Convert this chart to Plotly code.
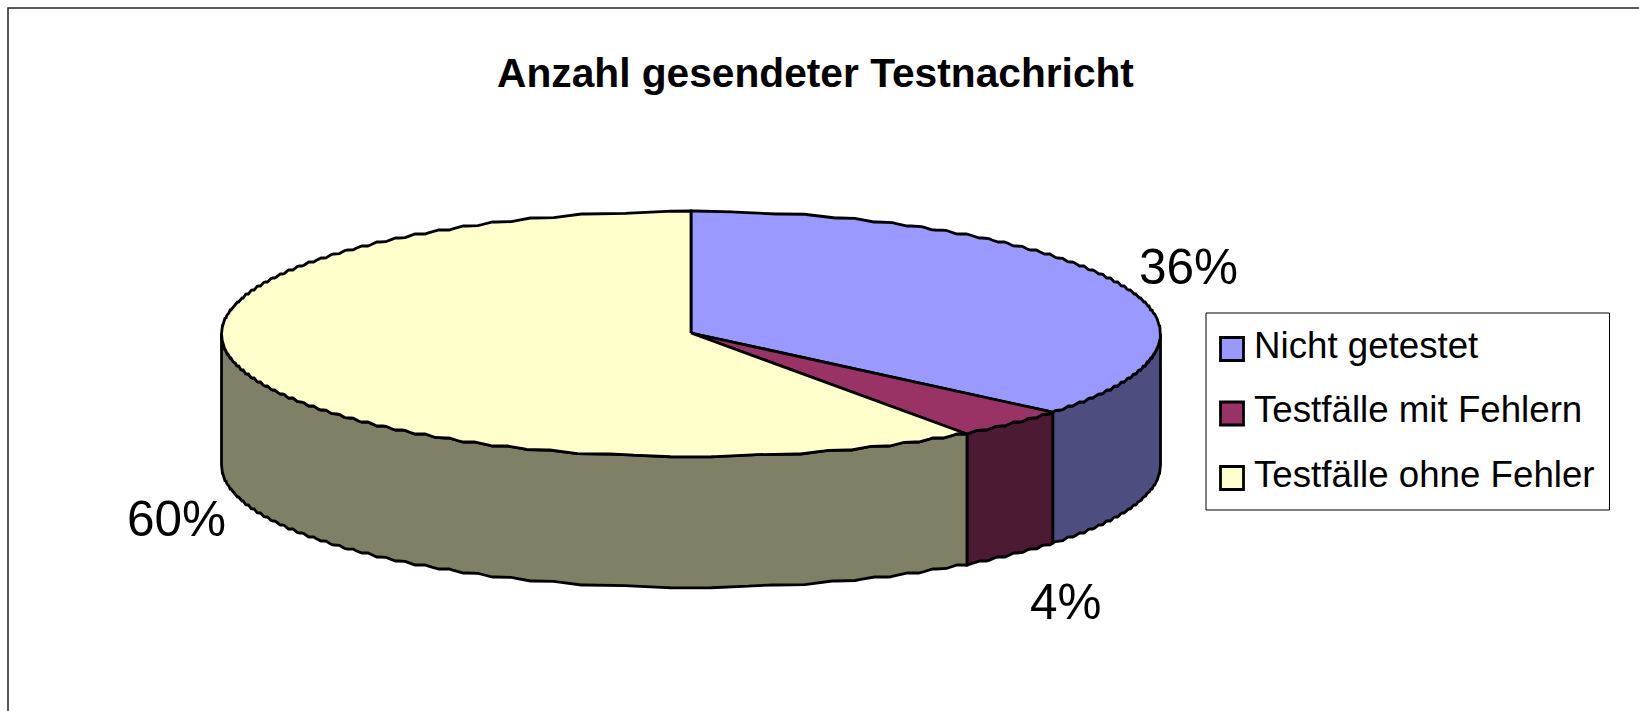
import numpy as np
import plotly.graph_objects as go

categories = ["Nicht getestet", "Testfälle mit Fehlern", "Testfälle ohne Fehler"]
values = [36, 4, 60]
labels = ["36%", "4%", "60%"]
top_colors = ["#9999FF", "#993366", "#FFFFCC"]
side_colors = ["#4D4D80", "#4D1A33", "#808066"]
title_text = "Anzahl gesendeter Testnachricht"

CX, CY, RX, RY, DEPTH = 691.0, 333.0, 469.5, 122.5, 131.0
FONT = "Liberation Sans"
Q = 4.0  # height of one stair step of the reference's jagged outline


def stair(y):
    f = y / Q
    base = np.floor(f)
    return Q * (base + np.clip((f - base - 0.5) / 0.5, 0, 1)) + 2.0


def rim(a0, a1):
    """Rim points of the tilted pie, angle in degrees clockwise from 12 o'clock."""
    steps = max(2, int(np.ceil((a1 - a0) / 0.5)) + 1)
    a = np.radians(np.linspace(a0, a1, steps))
    x = CX + RX * np.sin(a)
    y = CY - RY * np.cos(a)
    return x, stair(y)


fig = go.Figure()
edges = np.concatenate([[0], np.cumsum(values)]) / sum(values) * 360.0

# side walls (only the front half of the cylinder is visible)
for i in range(len(values)):
    a0, a1 = max(edges[i], 90), min(edges[i + 1], 270)
    if a1 <= a0:
        continue
    x, y = rim(a0, a1)
    px = list(x) + list(x[::-1]) + [x[0]]
    py = list(y) + list((y + DEPTH)[::-1]) + [y[0]]
    fig.add_trace(go.Scatter(x=px, y=py, mode="lines", fill="toself", fillcolor=side_colors[i],
                             line=dict(color="black", width=2.8), showlegend=False, hoverinfo="skip"))

# top faces
for i in range(len(values)):
    x, y = rim(edges[i], edges[i + 1])
    px = [CX] + list(x) + [CX]
    py = [CY] + list(y) + [CY]
    fig.add_trace(go.Scatter(x=px, y=py, mode="lines", fill="toself", fillcolor=top_colors[i],
                             line=dict(color="black", width=2.8), showlegend=False,
                             name=categories[i], hoverinfo="name"))

# large legend swatches (plotly caps its own legend markers at 16 px)
swatch_x = [1232, 1232, 1232]
swatch_y = [349, 413.5, 478]
fig.add_trace(go.Scatter(x=swatch_x, y=swatch_y, mode="markers", showlegend=False, hoverinfo="skip",
                         marker=dict(symbol="square", size=23, color=top_colors,
                                     line=dict(color="black", width=2.8))))

# legend entries
for i, c in enumerate(categories):
    fig.add_trace(go.Scatter(x=[None], y=[None], mode="markers", name=c, legendgroup=c,
                             marker=dict(symbol="square", size=8, color=top_colors[i])))

label_pos = [(1188, 266), (1066, 601), (176, 518)]
for t, (lx, ly) in zip(labels, label_pos):
    fig.add_annotation(x=lx, y=ly, text=t, showarrow=False,
                       font=dict(family=FONT, size=49.5, color="black"))

fig.update_layout(
    width=1639, height=711, margin=dict(l=0, r=0, t=0, b=0),
    paper_bgcolor="white", plot_bgcolor="white",
    font=dict(family=FONT, color="black"),
    title=dict(text="<b>" + title_text + "</b>", x=815.5 / 1639, xanchor="center",
               y=1 - 73 / 711, yanchor="middle", font=dict(family=FONT, size=40.7, color="black")),
    xaxis=dict(range=[0, 1639], visible=False, fixedrange=True),
    yaxis=dict(range=[711, 0], visible=False, fixedrange=True),
    showlegend=True,
    legend=dict(x=1214 / 1639, y=1 - 313 / 711, xanchor="left", yanchor="top",
                bgcolor="rgba(0,0,0,0)", borderwidth=0,
                tracegroupgap=14, itemwidth=30,
                font=dict(family=FONT, size=36.7, color="black")),
    shapes=[dict(type="rect", xref="x", yref="y", x0=8, y0=8, x1=1800, y1=800,
                 line=dict(color="#222222", width=1.5), fillcolor="rgba(0,0,0,0)", layer="below"),
            dict(type="rect", xref="x", yref="y", x0=1206, y0=313, x1=1609.5, y1=510,
                 line=dict(color="black", width=1), fillcolor="white", layer="below")],
)
fig.write_html("out.html", config={"displayModeBar": False},
               post_script="document.body.style.margin='0';")
